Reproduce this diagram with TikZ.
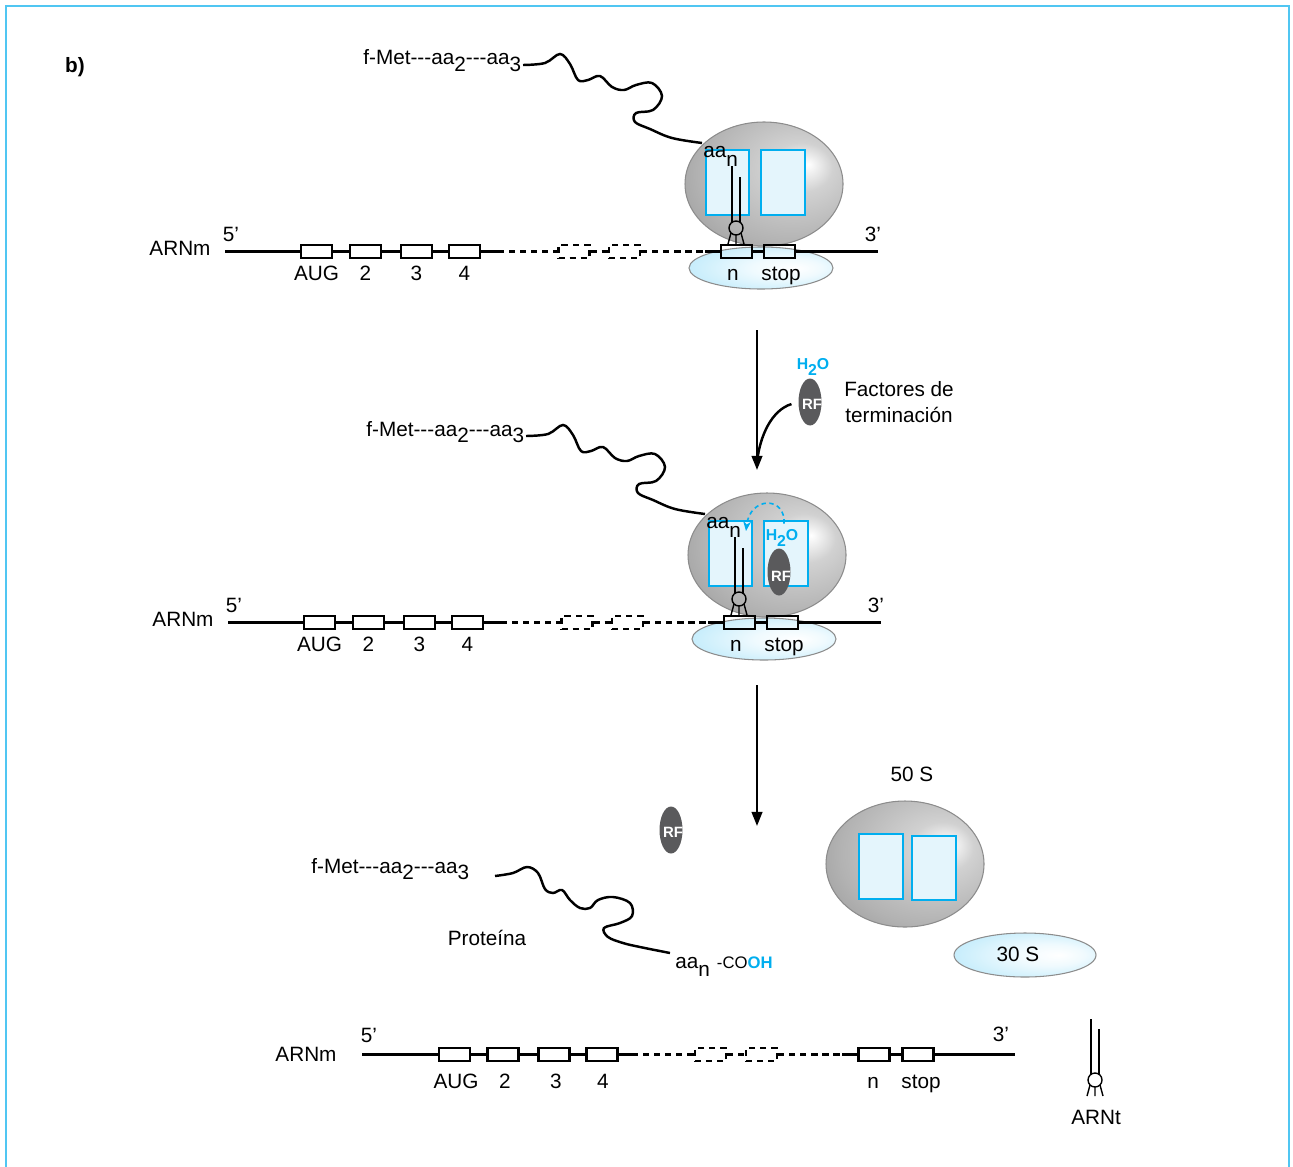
\documentclass[tikz,border=0pt]{standalone}
\usepackage{fontspec}
\setmainfont{Liberation Sans}
\usetikzlibrary{arrows.meta, shapes.geometric}

\definecolor{procyan}{RGB}{0,174,239}
\definecolor{sitefill}{RGB}{228,245,252}
\definecolor{rfgray}{RGB}{90,90,92}
\definecolor{framecyan}{RGB}{80,198,242}

% subunit shadings, light spot up and to the right
\pgfdeclareradialshading{bigshade}{\pgfpoint{14bp}{8bp}}{%
  color(0bp)=(white); color(10bp)=(black!18); color(28bp)=(black!30);
  color(42bp)=(black!42); color(60bp)=(black!48)}
\pgfdeclareradialshading{smallshade}{\pgfpoint{12bp}{0bp}}{%
  color(0bp)=(white); color(12bp)=(procyan!6); color(32bp)=(procyan!24);
  color(50bp)=(procyan!30)}

\newcommand{\lo}[1]{\raisebox{-0.32em}{#1}}
\newcommand{\dsh}{-\kern0pt-\kern0pt-}

\begin{document}
\begin{tikzpicture}[x=0.02cm, y=-0.02cm,
  every node/.style={font=\fontsize{11.8}{14}\selectfont, inner sep=0pt},
  codon/.style={draw, line width=1.3pt, minimum width=0.62cm, minimum height=0.27cm},
  ghost/.style={codon, dash pattern=on 3.5pt off 2.8pt},
  rna/.style={line width=1.4pt},
  rnadash/.style={rna, dash pattern=on 3.5pt off 2.8pt},
  trna/.style={line width=0.8pt},
  site/.style={draw=procyan, line width=1pt, fill=sitefill},
  subunit/.style={draw=black!45, line width=0.6pt},
  rf/.style={ellipse, fill=rfgray, minimum width=0.46cm, minimum height=0.94cm},
  rftext/.style={font=\fontsize{8.5}{9}\selectfont\bfseries, text=white},
  water/.style={font=\fontsize{9}{10}\selectfont\bfseries, text=procyan},
  flow/.style={line width=1.3pt, -{Triangle[length=8pt,width=6pt]}}
]
\useasboundingbox (0,0) rectangle (1293,1166);
\draw[framecyan, line width=1.2pt] (6,1170) -- (6,6) -- (1289,6) -- (1289,1170);
\node[font=\fontsize{11.8}{14}\selectfont\bfseries] (part) at (75,67) {b)};

% elongation stopped at the stop codon (top) and with RF bound (middle)
\foreach \p/\dx/\dy in {a/0/0, b/3/371}{
\begin{scope}[shift={(\dx,\dy)}]
\shadedraw[subunit, shading=smallshade] (761,268) ellipse [x radius=72, y radius=21];
\shadedraw[subunit, shading=bigshade] (764,184) ellipse [x radius=79, y radius=62];
\draw[site] (706,150) rectangle (749,215);
\draw[site] (761,150) rectangle (805,215);

\coordinate (m5\p) at (225,251.5);
\coordinate (mdash\p) at (498,251.5);
\coordinate (msol\p) at (705,251.5);
\coordinate (m3\p) at (878,251.5);
\foreach \cx/\lab/\nm in {316.5/AUG/aug, 365.5/2/c2, 416.5/3/c3, 464.5/4/c4}{
  \node[codon] (\nm\p) at (\cx,251.5) {};
  \node[anchor=base] (l\nm\p) at (\cx,280) {\lab};
}
\node[ghost] (g1\p) at (574,251.5) {};
\node[ghost] (g2\p) at (624.5,251.5) {};
\node[codon] (n\p) at (736.5,251.5) {};
\node[codon] (stop\p) at (779.5,251.5) {};
\node[anchor=base] (ln\p) at (733,280) {n};
\node[anchor=base] (lstop\p) at (781,280) {stop};
\draw[rna] (m5\p) -- (aug\p) -- (c2\p) -- (c3\p) -- (c4\p) -- (mdash\p);
\draw[rnadash] (mdash\p) -- (g1\p) -- (g2\p) -- (msol\p);
\draw[rna] (msol\p) -- (n\p) -- (stop\p) -- (m3\p);
\node (arnm\p) at (180,248) {ARNm};
\node (five\p) at (231,234) {5’};
\node (three\p) at (873,234) {3’};

% tRNA in the P site
\draw[trna] (732,166) -- (732,222) (740,177) -- (740,222);
\draw[trna] (736,228) circle [radius=7];
\draw[trna] (731,233) -- (728,244) (736,235) -- (736,244) (741,233) -- (744,244);
\node[anchor=base west] (aan\p) at (703,157) {aa\raisebox{-0.45em}{n}};

\node[anchor=base west] (pep\p) at (363,65) {f-Met\dsh aa\lo{2}\dsh aa\lo{3}};
\draw[rna] plot[smooth, tension=0.6] coordinates {(523,65) (545,63) (560,54) (570,64)
  (578,80) (588,80) (600,76) (612,87) (624,90) (636,85) (652,83) (662,96) (653,110)
  (636,113) (635,122) (650,129) (672,138) (702,143)};
\end{scope}
}

% release factor in the A site
\node[rf] (rfin) at (779,572) {};
\node[rftext] (rfinlab) at (781,576) {RF};
\node[water] (h2oin) at (782,538) {H\lo{2}O};
\draw[procyan, line width=0.9pt, dash pattern=on 2.5pt off 2pt, -{Stealth[length=5.5pt,width=4.5pt]}]
  (h2oin.north) ++(2,-6) .. controls (786,496) and (750,496) .. (746,531);

% first step
\coordinate (flowAtop) at (757,330);
\coordinate (flowAbot) at (757,470);
\coordinate (flowAjoin) at (757,462);
\draw[flow] (flowAtop) -- (flowAbot);
\node[rf] (rfA) at (810,402) {};
\node[rftext] (rfAlab) at (812,404) {RF};
\node[water] (h2oA) at (813,367) {H\lo{2}O};
\node[align=center, font=\fontsize{11.8}{14.8}\selectfont] (factA) at (899,402) {Factores de\\terminación};
\draw[rna, shorten <=4pt] (rfA.west) .. controls (772,410) and (760,435) .. (flowAjoin);

% second step
\coordinate (flowBtop) at (757,685);
\coordinate (flowBbot) at (757,826);
\draw[flow] (flowBtop) -- (flowBbot);

% everything released
\node[rf] (rfout) at (671,830) {};
\node[rftext] (rfoutlab) at (673,832) {RF};
\node (fifty) at (912,774) {50 S};
\shadedraw[subunit, shading=bigshade] (905,864) ellipse [x radius=79, y radius=63];
\draw[site] (859,834) rectangle (903,899);
\draw[site] (912,836) rectangle (956,900);
\shadedraw[subunit, shading=smallshade] (1025,955) ellipse [x radius=71, y radius=22];
\node (thirty) at (1018,954) {30 S};

\node[anchor=base west] (pepc) at (311,873) {f-Met\dsh aa\lo{2}\dsh aa\lo{3}};
\draw[rna] plot[smooth, tension=0.6] coordinates {(495,876) (513,873) (527,867) (538,873)
  (545,889) (553,893) (562,890) (570,900) (580,908) (590,908) (598,900) (613,897)
  (630,903) (632,916) (620,923) (604,928) (608,937) (623,943) (640,947) (670,953)};
\node (prot) at (487,938) {Proteína};
\node[anchor=base west] (cooh) at (675,968) {aa\raisebox{-0.4em}{n}\hspace{4pt}{\fontsize{9.5}{10}\selectfont -CO\textcolor{procyan}{\bfseries OH}}};

\coordinate (m5c) at (362,1054.5);
\coordinate (mdashc) at (632,1054.5);
\coordinate (msolc) at (842,1054.5);
\coordinate (m3c) at (1015,1054.5);
\foreach \cx/\lx/\lab/\nm in {454.5/456/AUG/aug, 503/505/2/c2, 554/556/3/c3, 602/603/4/c4}{
  \node[codon] (\nm c) at (\cx,1054.5) {};
  \node[anchor=base] (l\nm c) at (\lx,1088) {\lab};
}
\node[ghost] (g1c) at (710.5,1054.5) {};
\node[ghost] (g2c) at (761.5,1054.5) {};
\node[codon] (nc) at (874,1054.5) {};
\node[codon] (stopc) at (918,1054.5) {};
\node[anchor=base] (lnc) at (873,1088) {n};
\node[anchor=base] (lstopc) at (921,1088) {stop};
\draw[rna] (m5c) -- (augc) -- (c2c) -- (c3c) -- (c4c) -- (mdashc);
\draw[rnadash] (mdashc) -- (g1c) -- (g2c) -- (msolc);
\draw[rna] (msolc) -- (nc) -- (stopc) -- (m3c);
\node (arnmc) at (306,1054) {ARNm};
\node (fivec) at (369,1035) {5’};
\node (threec) at (1001,1034) {3’};

% free tRNA
\draw[trna] (1091,1019) -- (1091,1075) (1099,1029) -- (1099,1075);
\draw[trna] (1095,1080) circle [radius=7];
\draw[trna] (1090,1085) -- (1087,1096) (1095,1087) -- (1095,1096) (1100,1085) -- (1103,1096);
\node (arnt) at (1096,1117) {ARNt};
\end{tikzpicture}
\end{document}
